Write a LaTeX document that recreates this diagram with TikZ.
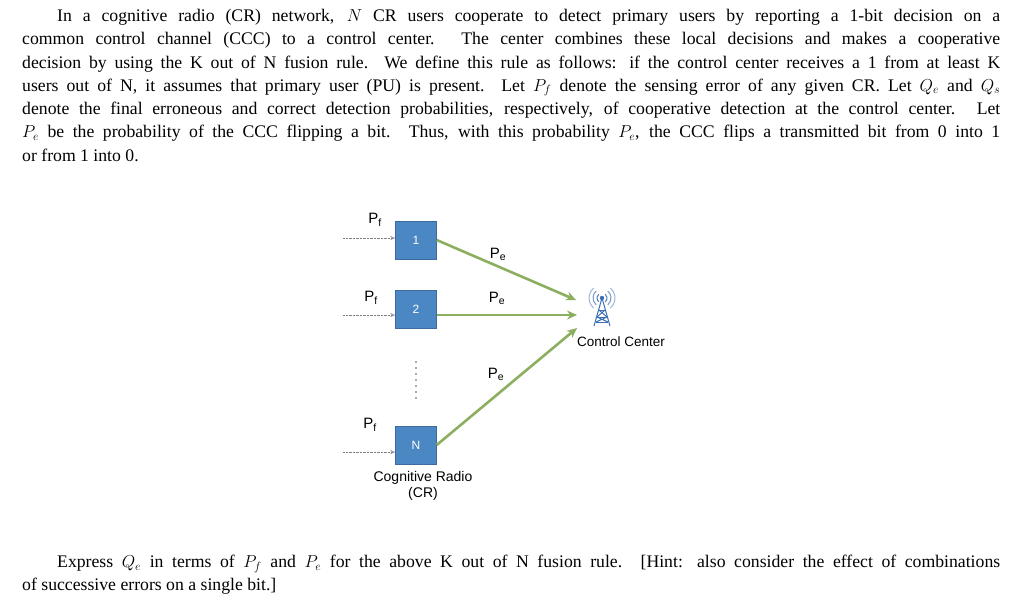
\documentclass[tikz,border=0pt]{standalone}
\usepackage{fontspec}
\setmainfont{Liberation Serif}
\newfontfamily\sff{Liberation Sans}
\usetikzlibrary{arrows.meta}
\definecolor{gr}{RGB}{140,175,95}
\definecolor{bl}{RGB}{75,135,195}
\definecolor{bld}{RGB}{60,105,160}
\definecolor{tw}{RGB}{60,110,180}
\tikzset{cr/.style={draw=bld,fill=bl,minimum width=41pt,minimum height=38pt,inner sep=0,text=white,font=\sff\fontsize{12}{14}\selectfont},
lab/.style={font=\sff\fontsize{14}{16}\selectfont},
pl/.style={font=\sff\fontsize{15}{16}\selectfont},
ga/.style={draw=gr,line width=2.6pt,-{Stealth[length=10pt,width=9pt]}},
da/.style={draw=gray,densely dotted,-{Stealth[length=5pt,width=4pt,open]}},
body/.style={anchor=north west,inner sep=0,text width=978pt,align=justify,font=\fontsize{17.7}{23.3}\selectfont}}
\begin{document}
\begin{tikzpicture}[x=1pt,y=-1pt]
\useasboundingbox (0,0) rectangle (1024,614);
\fill[white] (0,0) rectangle (1024,614);
\node[body] (t1) at (22,9)
{\hspace*{35pt}In a cognitive radio (CR) network, $N$ CR users cooperate to detect primary users by reporting a 1-bit decision on a\linebreak common control channel (CCC) to a control center. The center combines these local decisions and makes a cooperative\linebreak decision by using the K out of N fusion rule. We define this rule as follows: if the control center receives a 1 from at least K\linebreak users out of N, it assumes that primary user (PU) is present. Let $P_f$ denote the sensing error of any given CR. Let $Q_e$ and $Q_s$\linebreak denote the final erroneous and correct detection probabilities, respectively, of cooperative detection at the control center. Let\linebreak $P_e$ be the probability of the CCC flipping a bit. Thus, with this probability $P_e$, the CCC flips a transmitted bit from 0 into 1\linebreak or from 1 into 0.\par};
\node[body] (t2) at (22,555)
{\hspace*{35pt}Express $Q_e$ in terms of $P_f$ and $P_e$ for the above K out of N fusion rule. [Hint: also consider the effect of combinations\linebreak of successive errors on a single bit.]\par};
\node[cr] (c1) at (416,240) {1};
\node[cr] (c2) at (416,309) {2};
\node[cr] (cn) at (416,445) {N};
\coordinate (s1) at (343,238); \coordinate (s2) at (343,315); \coordinate (sn) at (343,452);
\draw[da] (s1) -- (c1.west|-s1);
\draw[da] (s2) -- (c2.west|-s2);
\draw[da] (sn) -- (cn.west|-sn);
\node[pl] at (375,220) {P\textsubscript{f}};
\node[pl] at (371,298) {P\textsubscript{f}};
\node[pl] at (370,425) {P\textsubscript{f}};
\coordinate (e1) at (576,300); \coordinate (e2) at (577,315); \coordinate (en) at (577,328);
\draw[ga] (c1.east) -- (e1);
\draw[ga] (c2.east|-e2) -- (e2);
\draw[ga] (cn.east) -- (en);
\node[pl] at (498,254) {P\textsubscript{e}};
\node[pl] at (497,298) {P\textsubscript{e}};
\node[pl] at (496,374) {P\textsubscript{e}};
\foreach \y in {362,368,...,402} \fill[gray!70!black] (416,\y) circle (0.9);
% antenna
\node[lab,font=\sff\fontsize{13.5}{16}\selectfont] (cc) at (621,342) {Control Center};
\coordinate (ant) at (602,298);
\begin{scope}[tw,line width=1pt]
\fill (ant) circle (2.2);
\draw (ant) -- (594,326) (ant) -- (610,326);
\draw (597,317) -- (607,317) (599,310) -- (605,310) (596,322)--(608,322);
\draw (599,310) -- (607,317) -- (596,322) (605,310) -- (597,317) -- (608,322);
\foreach \r/\o in {5/90,9/70,13/50}{
 \draw[opacity=\o/100] (ant) ++(130:\r) arc (130:230:\r);
 \draw[opacity=\o/100] (ant) ++(50:\r) arc (50:-50:\r);}
\end{scope}
\node[lab] at (423,478) {Cognitive Radio};
\node[lab] at (423,494) {(CR)};
\end{tikzpicture}
\end{document}
